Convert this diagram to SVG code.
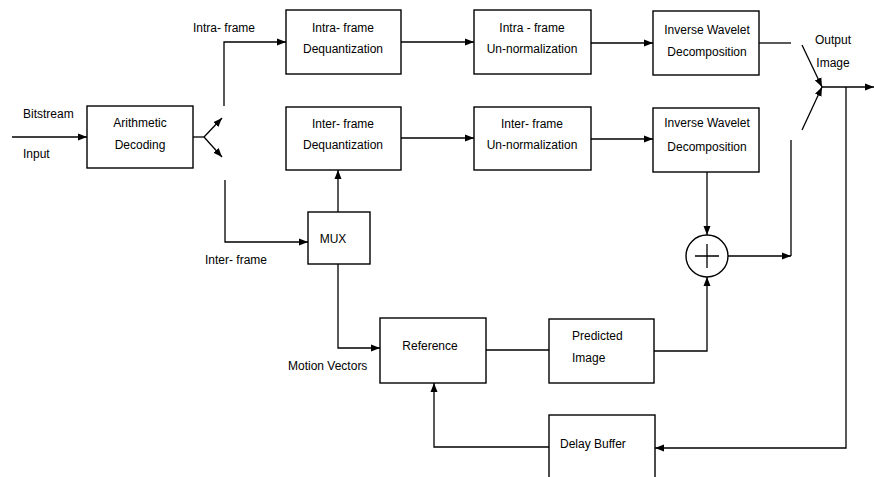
<svg xmlns="http://www.w3.org/2000/svg" width="874" height="477" viewBox="0 0 874 477">
<defs>
<marker id="ah" markerUnits="userSpaceOnUse" markerWidth="10" markerHeight="8" refX="9" refY="4" orient="auto">
<path d="M0,0.5 L9,4 L0,7.5 Z" fill="#000"/>
</marker>
</defs>
<style>
.box{fill:#fff;stroke:#000;stroke-width:1.4}
.ln{fill:none;stroke:#000;stroke-width:1.3}
.ar{fill:none;stroke:#000;stroke-width:1.3;marker-end:url(#ah)}
text{font-family:"Liberation Sans",Arial,sans-serif;font-size:12px;fill:#000}
.c{text-anchor:middle}
</style>
<rect width="874" height="477" fill="#fff"/>

<g id="connectors">
<path class="ar" d="M12,137 H87"/>
<path class="ln" d="M193,137 H204"/>
<path class="ar" d="M204,137 L222,118"/>
<path class="ar" d="M204,137 L222,157"/>
<path class="ar" d="M224,106 V42 H286"/>
<path class="ar" d="M225,180 V242 H308"/>
<path class="ar" d="M401,42 H474"/>
<path class="ar" d="M591,43 H653"/>
<path class="ln" d="M759,43 H791"/>
<path class="ar" d="M802,45 L822,87"/>
<path class="ar" d="M802,130 L822,87"/>
<path class="ar" d="M822,87 H874"/>
<path class="ar" d="M846,87 V448 H655"/>
<path class="ar" d="M401,138 H474"/>
<path class="ar" d="M591,139 H653"/>
<path class="ar" d="M338,212 V170"/>
<path class="ar" d="M338,264 V348 H380"/>
<path class="ar" d="M707,172 V235"/>
<path class="ar" d="M728,256 H791"/>
<path class="ln" d="M791,256 V140"/>
<path class="ln" d="M486,350 H549"/>
<path class="ar" d="M654,351 H707 V277"/>
<path class="ar" d="M549,447 H434 V383"/>
</g>

<g id="labels">
<text x="23" y="118">Bitstream</text>
<text x="23" y="158">Input</text>
<text x="193" y="32">Intra- frame</text>
<text x="205" y="264">Inter- frame</text>
<text x="288" y="370">Motion Vectors</text>
<text x="833" y="44" class="c">Output</text>
<text x="833" y="67" class="c">Image</text>
</g>

<g id="arith">
<rect class="box" x="87" y="106" width="106" height="62"/>
<text x="140" y="127" class="c">Arithmetic</text>
<text x="140" y="149" class="c">Decoding</text>
</g>

<g id="intra-deq">
<rect class="box" x="286" y="10" width="115" height="64"/>
<text x="343" y="32" class="c">Intra- frame</text>
<text x="343" y="53" class="c">Dequantization</text>
</g>

<g id="intra-unnorm">
<rect class="box" x="474" y="10" width="117" height="64"/>
<text x="532" y="32" class="c">Intra - frame</text>
<text x="532" y="53" class="c">Un-normalization</text>
</g>

<g id="iw1">
<rect class="box" x="653" y="11" width="106" height="64"/>
<text x="707" y="34" class="c">Inverse Wavelet</text>
<text x="707" y="56" class="c">Decomposition</text>
</g>

<g id="inter-deq">
<rect class="box" x="286" y="107" width="115" height="63"/>
<text x="343" y="128" class="c">Inter- frame</text>
<text x="343" y="149" class="c">Dequantization</text>
</g>

<g id="inter-unnorm">
<rect class="box" x="474" y="107" width="117" height="63"/>
<text x="532" y="128" class="c">Inter- frame</text>
<text x="532" y="149" class="c">Un-normalization</text>
</g>

<g id="iw2">
<rect class="box" x="653" y="108" width="106" height="64"/>
<text x="707" y="127" class="c">Inverse Wavelet</text>
<text x="707" y="151" class="c">Decomposition</text>
</g>

<g id="mux">
<rect class="box" x="308" y="212" width="62" height="52"/>
<text x="333" y="243" class="c">MUX</text>
</g>

<g id="adder">
<circle cx="707" cy="256" r="21" fill="#fff" stroke="#000" stroke-width="1.4"/>
<path class="ln" d="M695,256 H719 M707,244 V268"/>
</g>

<g id="reference">
<rect class="box" x="380" y="318" width="106" height="65"/>
<text x="430" y="350" class="c">Reference</text>
</g>

<g id="predicted">
<rect class="box" x="549" y="319" width="105" height="64"/>
<text x="572" y="340">Predicted</text>
<text x="572" y="362">Image</text>
</g>

<g id="delay">
<rect class="box" x="549" y="415" width="106" height="70"/>
<text x="560" y="448">Delay Buffer</text>
</g>
</svg>
